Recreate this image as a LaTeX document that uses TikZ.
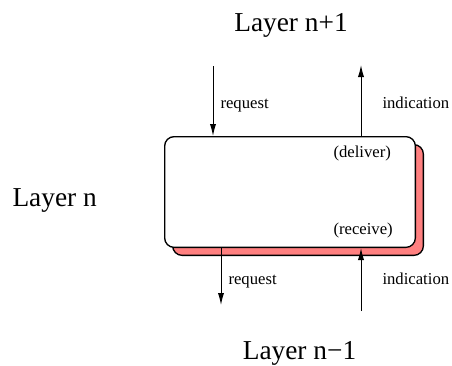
\documentclass[tikz,border=0pt]{standalone}
\usepackage{fontspec}
\setmainfont{Liberation Serif}
\usetikzlibrary{arrows.meta}
\definecolor{shadowred}{RGB}{255,128,128}

\begin{document}
\begin{tikzpicture}[x=0.75pt,y=0.75pt,line width=0.75pt,
        layerbox/.style = {draw,line width=1pt,rounded corners=7pt,minimum width=188pt,minimum height=83pt},
        prim/.style     = {-{Latex[length=9pt,width=4.6pt]}},
        small/.style    = {font=\fontsize{12.5}{14}\selectfont,inner sep=0pt,anchor=base west},
        big/.style      = {font=\fontsize{20.5}{24}\selectfont,inner sep=0pt,anchor=base}]
            \useasboundingbox (0,0) rectangle (452,365);

            % the layer and its shadow
            \node[layerbox,fill=shadowred] (shadow) at (298,165) {};
            \node[layerbox,fill=white]     (layer)  at (290,173) {};

            \node[big] (upper) at (291,333) {Layer n+1};
            \node[big,anchor=base west] (this) at (12,159) {Layer n};
            \node[big] (lower) at (299.5,6) {Layer n−1};

            % free ends of the primitives
            \coordinate (reqin)  at (213,299);
            \coordinate (indout) at (361,300);
            \coordinate (reqout) at (221,60);
            \coordinate (indin)  at (361,54);

            \draw[prim] (reqin) -- (reqin |- layer.north);
            \draw[prim] (indout |- layer.north) -- (indout);
            \draw[prim] (reqout |- layer.south) -- (reqout);
            \draw[prim] (indin) -- (indin |- layer.south);

            \node[small] (req1) at (220,257) {request};
            \node[small] (ind1) at (382,257) {indication};
            \node[small] (dlv)  at (333,208) {(deliver)};
            \node[small] (rcv)  at (333,131) {(receive)};
            \node[small] (req0) at (228,81)  {request};
            \node[small] (ind0) at (382,81)  {indication};
\end{tikzpicture}
\end{document}
